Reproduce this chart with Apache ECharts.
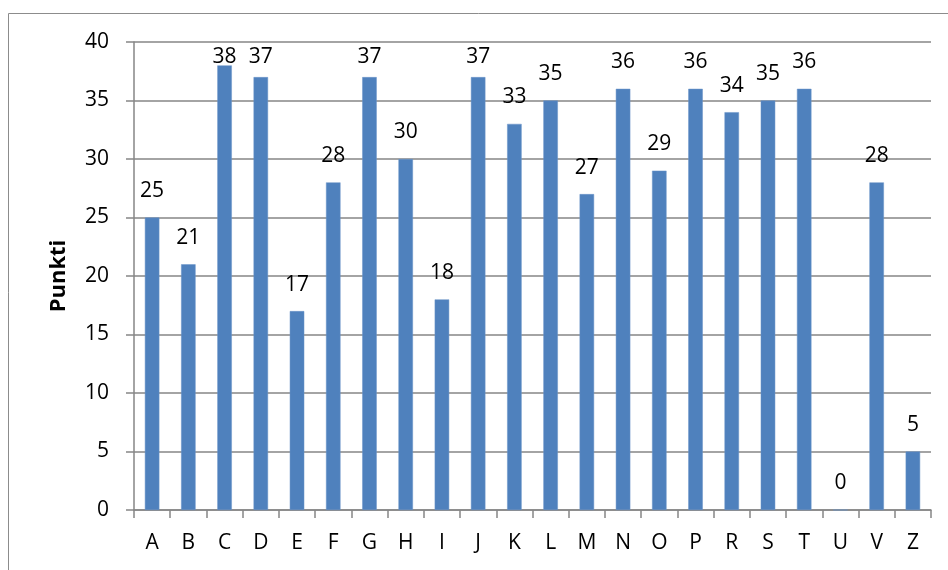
<!DOCTYPE html>
<html>
<head>
<meta charset="utf-8">
<script src="https://cdn.jsdelivr.net/npm/echarts@6/dist/echarts.min.js"></script>
<style>
  html, body { margin: 0; padding: 0; background: #fff; }
  #main { width: 948px; height: 570px; }
</style>
</head>
<body>
<div id="main"></div>
<script>
// kategorije in točke
var categories = ['A', 'B', 'C', 'D', 'E', 'F', 'G', 'H', 'I', 'J', 'K', 'L', 'M', 'N', 'O', 'P', 'R', 'S', 'T', 'U', 'V', 'Z'];
var points = [25, 21, 38, 37, 17, 28, 37, 30, 18, 37, 33, 35, 27, 36, 29, 36, 34, 35, 36, 0, 28, 5];
var yTicks = [0, 5, 10, 15, 20, 25, 30, 35, 40];

var font = '"Open Sans", "Liberation Sans", sans-serif';
var myChart = echarts.init(document.getElementById('main'));

var option = {
  animation: false,
  grid: { left: 134, right: 17, top: 42, bottom: 60 },
  graphic: [
    {
      type: 'rect',
      shape: { x: 8.5, y: 13.5, width: 960, height: 600 },
      style: { fill: 'none', stroke: '#8c8c8c', lineWidth: 1 },
      silent: true
    }
  ],
  xAxis: {
    type: 'category',
    data: categories,
    axisLine: { lineStyle: { color: '#868686', width: 1.5 } },
    axisTick: { show: true, length: 8, lineStyle: { color: '#868686', width: 1.5 } },
    axisLabel: { color: '#000', fontFamily: font, fontSize: 21, margin: 23 }
  },
  yAxis: {
    type: 'value',
    min: yTicks[0],
    max: yTicks[yTicks.length - 1],
    interval: 5,
    name: 'Punkti',
    nameLocation: 'middle',
    nameGap: 64,
    nameTextStyle: { color: '#000', fontFamily: font, fontSize: 22, fontWeight: 'bold' },
    axisLine: { show: true, lineStyle: { color: '#868686', width: 1.5 } },
    axisTick: { show: true, length: 8, lineStyle: { color: '#868686', width: 1.5 } },
    axisLabel: { color: '#000', fontFamily: font, fontSize: 21, margin: 25 },
    splitLine: { lineStyle: { color: '#868686', width: 1.5 } }
  },
  series: [
    {
      type: 'bar',
      data: points,
      barWidth: '40%',
      itemStyle: { color: '#4f81bd', borderColor: '#6a95c9', borderWidth: 0.5 },
      label: {
        show: true,
        position: 'top',
        distance: 16,
        color: '#000',
        fontFamily: font,
        fontSize: 21
      },
      // oznake ob vrhu ostanejo znotraj okvirja, kot v Excelu
      labelLayout: function (params) {
        var r = params.labelRect;
        var cy = r.y + r.height / 2;
        if (cy < 57) {
          return { dy: 57 - cy };
        }
        return {};
      }
    }
  ]
};
myChart.setOption(option, true);
</script>
</body>
</html>
